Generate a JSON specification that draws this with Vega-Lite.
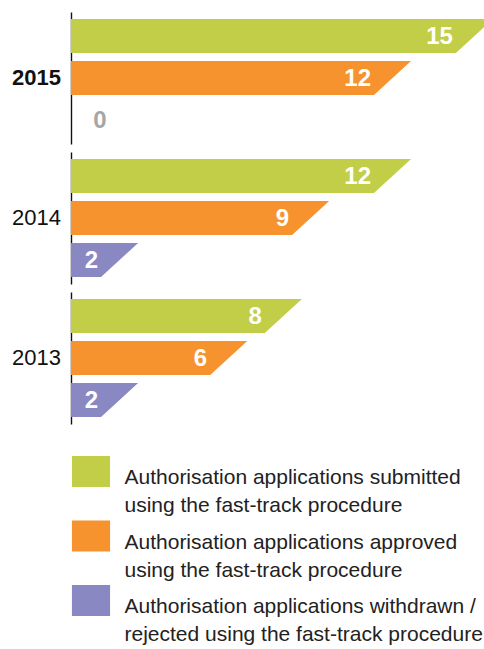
{
  "$schema": "https://vega.github.io/schema/vega-lite/v6.json",
  "padding": {"left": 12, "top": 12, "right": 0, "bottom": 0},
  "autosize": {"type": "pad"},
  "data": {"values": [
    {"year": 2015, "category": "submitted", "value": 15},
    {"year": 2015, "category": "approved", "value": 12},
    {"year": 2015, "category": "withdrawn", "value": 0},
    {"year": 2014, "category": "submitted", "value": 12},
    {"year": 2014, "category": "approved", "value": 9},
    {"year": 2014, "category": "withdrawn", "value": 2},
    {"year": 2013, "category": "submitted", "value": 8},
    {"year": 2013, "category": "approved", "value": 6},
    {"year": 2013, "category": "withdrawn", "value": 2}
  ]},
  "facet": {
    "row": {
      "field": "year", "type": "ordinal", "sort": "descending",
      "header": {
        "title": null, "labelAngle": 0, "labelAlign": "right", "labelOrient": "left",
        "labelPadding": -39, "labelFontSize": 22, "labelFont": "Liberation Sans", "labelColor": "#111111",
        "labelFontWeight": {"expr": "parent['year'] == 2015 ? 'bold' : 'normal'"}
      }
    }
  },
  "spacing": 8,
  "spec": {
    "width": 413,
    "height": 132,
    "encoding": {
      "y": {
        "field": "category", "type": "nominal",
        "sort": ["submitted", "approved", "withdrawn"],
        "scale": {"paddingInner": 0.19, "paddingOuter": 0.167},
        "axis": {"title": null, "labels": false, "ticks": false, "domain": true, "domainColor": "#111111", "domainWidth": 1.4}
      },
      "x": {
        "field": "value", "type": "quantitative",
        "scale": {"domain": [0.9, 16.03], "zero": false, "nice": false},
        "axis": null
      }
    },
    "layer": [
      {
        "transform": [{"filter": "datum.value > 0"}],
        "mark": {"type": "bar", "clip": true},
        "encoding": {
          "color": {
            "field": "category", "type": "nominal",
            "scale": {"domain": ["submitted", "approved", "withdrawn"], "range": ["#c2cd48", "#f6932e", "#8a88c3"]},
            "legend": {
              "orient": "none", "legendX": 4.5, "legendY": 444,
              "direction": "vertical", "title": null,
              "symbolType": "M-1.23,-1L1.23,-1L1.23,1L-1.23,1Z", "symbolSize": 961,
              "symbolStrokeWidth": 0, "symbolOpacity": 1,
              "labelFont": "Liberation Sans", "labelFontSize": 21, "labelColor": "#222222",
              "labelLimit": 0, "labelOffset": 18, "labelBaseline": "middle",
              "padding": 0, "rowPadding": 3.5,
              "labelExpr": "datum.value == 'submitted' ? ['Authorisation applications submitted', 'using the fast-track procedure'] : datum.value == 'approved' ? ['Authorisation applications approved', 'using the fast-track procedure'] : ['Authorisation applications withdrawn /', 'rejected using the fast-track procedure']",
              "encode": {"labels": {"update": {"lineHeight": {"value": 28.3}, "dy": {"value": 6.5}}}}
            }
          }
        }
      },
      {
        "transform": [{"filter": "datum.value > 0"}],
        "mark": {"type": "point", "clip": true, "shape": "M-0.5,-1L2.18,-1L0,1L-0.5,1Z", "size": 1156, "filled": true, "opacity": 1, "strokeWidth": 0},
        "encoding": {
          "color": {"field": "category", "type": "nominal", "legend": null}
        }
      },
      {
        "transform": [{"filter": "datum.value > 0"}],
        "mark": {"type": "text", "align": "right", "baseline": "middle", "dx": -3, "dy": 1, "font": "Liberation Sans", "fontSize": 24, "fontWeight": "bold", "color": "#ffffff"},
        "encoding": {"text": {"field": "value", "type": "quantitative"}}
      },
      {
        "transform": [{"filter": "datum.value == 0"}],
        "mark": {"type": "text", "align": "center", "baseline": "middle", "dx": 53.6, "dy": 1, "font": "Liberation Sans", "fontSize": 24, "fontWeight": "bold", "color": "#a6a6a6"},
        "encoding": {"text": {"field": "value", "type": "quantitative"}}
      }
    ]
  },
  "config": {"view": {"stroke": null}}
}
